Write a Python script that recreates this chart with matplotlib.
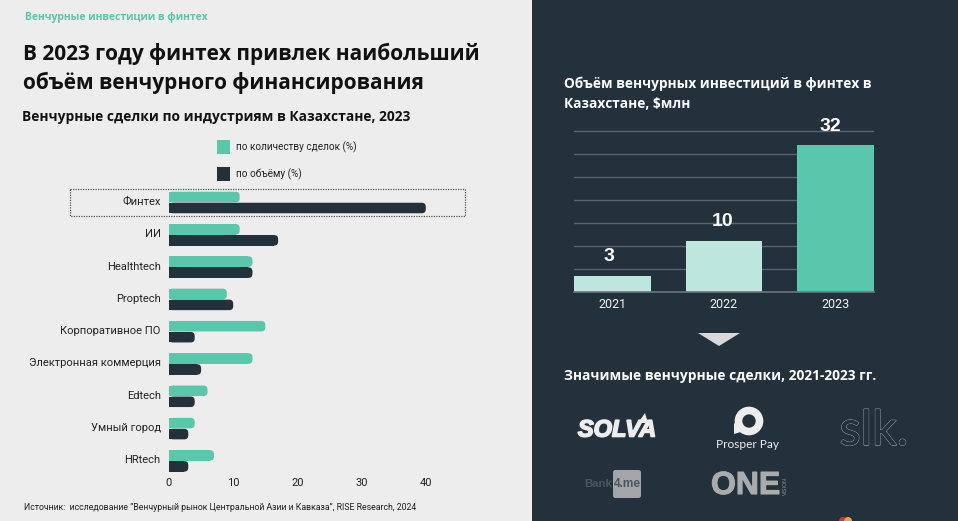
import matplotlib
matplotlib.use("Agg")
import matplotlib.pyplot as plt
import matplotlib.patheffects as pe
from matplotlib.patches import Rectangle, FancyBboxPatch, Polygon, Circle
from matplotlib.transforms import ScaledTranslation

W, H = 958, 521
LIGHT, DARK, TEAL, PALE = "#EDEDED", "#22313B", "#5AC6AC", "#BDE7DC"

industries = ["Финтех", "ИИ", "Healthtech", "Proptech", "Корпоративное ПО",
              "Электронная коммерция", "Edtech", "Умный город", "HRtech"]
deal_count = [11, 11, 13, 9, 15, 13, 6, 4, 7]
deal_volume = [40, 17, 13, 10, 4, 5, 4, 3, 3]
count_ticks = [0, 10, 20, 30, 40]

years = ["2021", "2022", "2023"]
invest_bars = [3.5, 11, 32]
invest_labels = ["3", "10", "32"]
invest_grid = [5, 10, 15, 20, 25, 30, 35]

fig = plt.figure(figsize=(W / 100, H / 100), dpi=100, facecolor=LIGHT)

bg = fig.add_axes([0, 0, 1, 1])
bg.set_xlim(0, W)
bg.set_ylim(H, 0)
bg.axis("off")
bg.add_patch(Rectangle((532, 0), W - 532, H, fc=DARK, ec="none"))

OS = "Open Sans"
RB = "Roboto"

def T(x, y, s, size, color="#111111", weight="normal", family=RB, ha="left", va="center", fake=0, **kw):
    t = bg.text(x, y, s, fontsize=size, color=color, fontweight=weight,
                family=family, ha=ha, va=va, **kw)
    if fake:
        t.set_path_effects([pe.withStroke(linewidth=fake, foreground=color)])
    return t

T(25, 17.5, "Венчурные инвестиции в финтех", 7.45, TEAL, "bold", OS)
T(23, 54, "В 2023 году финтех привлек наибольший", 15.0, "#111111", "bold", OS)
T(23, 83, "объём венчурного финансирования", 15.0, "#111111", "bold", OS)
T(22, 117, "Венчурные сделки по индустриям в Казахстане, 2023", 9.95, "#111111", "bold", OS)

bg.add_patch(Rectangle((217, 140), 13.5, 14, fc=TEAL, ec="none"))
bg.add_patch(Rectangle((217, 167), 13.5, 14, fc=DARK, ec="none"))
T(236, 147, "по количеству сделок (%)", 7.2, "#222222")
T(236, 174, "по объёму (%)", 7.2, "#222222")
bg.add_patch(Rectangle((70.5, 188.5), 395, 27, fc="none", ec="#555555", lw=0.9, ls=(0, (1, 1))))

T(24, 507, "Источник:  исследование “Венчурный рынок Центральной Азии и Кавказа”, RISE Research, 2024",
  6.3, "#222222")

T(564, 84, "Объём венчурных инвестиций в финтех в", 9.85, "white", "bold", OS)
T(564, 104, "Казахстане, $млн", 9.85, "white", "bold", OS)
T(564, 376, "Значимые венчурные сделки, 2021-2023 гг.", 9.95, "white", "bold", OS)
bg.add_patch(Polygon([[698, 333], [740, 333], [719, 346]], fc="#D9D9D9", ec="none"))

T(617, 430, "SOLVA", 17, "#EDEDED", "bold", "Liberation Sans", ha="center", style="italic", fake=1.2)
bg.add_patch(Polygon([[638, 423], [645, 413], [648, 423]], fc="#EDEDED", ec="none"))
bg.add_patch(Circle((749, 421), 10.5, fc="none", ec="#EDEDED", lw=5.5))
bg.add_patch(Polygon([[734, 423], [734, 434], [744, 431]], fc="#EDEDED", ec="none"))
T(748, 444, "Prosper Pay", 8.6, "#EDEDED", "normal", "Lato", ha="center")
sik = T(874, 431, "slk.", 35, DARK, "normal", "Lato", ha="center")
sik.set_path_effects([pe.withStroke(linewidth=0.9, foreground="#9AA3A8"), pe.Normal()])
bg.add_patch(FancyBboxPatch((613, 470), 28, 28, boxstyle="round,pad=0,rounding_size=2.5",
                            fc="#A3A5AA", ec="none"))
T(584, 484, "Bank", 8.2, "#4C565D", "bold", "Liberation Sans")
T(614, 484, "4.me", 8.6, "#4C565D", "bold", "Liberation Sans")
T(711, 486, "ONE", 23, "#A9ABAD", "bold", "Liberation Sans", fake=0.8)
T(785, 486, "VISION", 3.8, "#8C9194", "normal", "Liberation Sans", ha="center", rotation=90)
bg.add_patch(Circle((843, 521), 4, fc="#E2293B", ec="none"))
bg.add_patch(Circle((848, 521), 4, fc="#F2A23A", ec="none"))

def axes_px(x0, y0, x1, y1):
    return fig.add_axes([x0 / W, 1 - y1 / H, (x1 - x0) / W, (y1 - y0) / H])

PX_X = 6.42
ROW = 32.3
left, right, top, bottom = 169, 470, 186.35, 477.05
ax = axes_px(left, top, right, bottom)
ax.patch.set_alpha(0)
ax.set_xlim(0, (right - left) / PX_X)
ax.set_ylim(len(industries) - 0.5, -0.5)
bar_h = 10.5 / ROW
gap = 0.5 / ROW
aspect = (1 / ROW) / (1 / PX_X)
radius = 4 / PX_X
for i in range(len(industries)):
    for value, color, y0 in ((deal_count[i], TEAL, i - bar_h - gap / 2),
                             (deal_volume[i], DARK, i + gap / 2)):
        ax.barh(y0 + bar_h / 2, value - radius, height=bar_h, color=color, linewidth=0)
        ax.add_patch(FancyBboxPatch((0, y0), value, bar_h,
                                    boxstyle=f"round,pad=0,rounding_size={radius}",
                                    mutation_aspect=aspect, fc=color, ec="none"))
for s in ax.spines.values():
    s.set_visible(False)
ax.set_yticks(range(len(industries)), industries, fontsize=8, color="#222222", family=RB)
ax.set_xticks(count_ticks, [str(t) for t in count_ticks], fontsize=8, color="#222222", family=RB)
ax.tick_params(length=0, axis="y", pad=6)
ax.tick_params(length=0, axis="x", pad=0.8)
up = ScaledTranslation(0, 1.5 / 100, fig.dpi_scale_trans)
for lab in ax.get_yticklabels():
    lab.set_transform(lab.get_transform() + up)

PX_Y = 4.6
axr = axes_px(574, 292 - PX_Y * 35 - 1, 874, 292)
axr.patch.set_alpha(0)
axr.set_xlim(-0.345, 2.345)
axr.set_ylim(0, 35 + 1 / PX_Y)
axr.set_axisbelow(True)
axr.set_yticks(invest_grid)
axr.tick_params(axis="y", length=0, labelleft=False)
axr.yaxis.grid(True, color="#59646C", lw=1)
bars = axr.bar(years, invest_bars, width=0.69, color=[PALE, PALE, TEAL], linewidth=0)
for s in ("top", "left", "right"):
    axr.spines[s].set_visible(False)
axr.spines["bottom"].set_color("#6D767C")
axr.spines["bottom"].set_linewidth(1.2)
axr.tick_params(axis="x", length=0, pad=4, labelsize=9, labelcolor="#F2F2F2")
for lab in axr.get_xticklabels():
    lab.set_family(RB)
label_dx = [-0.035, -0.01, -0.05]
label_dy = [3.2, 3.3, 2.9]
for i, (b, s) in enumerate(zip(bars, invest_labels)):
    axr.text(i + label_dx[i], b.get_height() + label_dy[i], s, ha="center", va="baseline",
             color="white", fontsize=14, fontweight="bold", family="Liberation Sans",
             clip_on=False)

fig.savefig("out.png", dpi=100, facecolor=LIGHT)
